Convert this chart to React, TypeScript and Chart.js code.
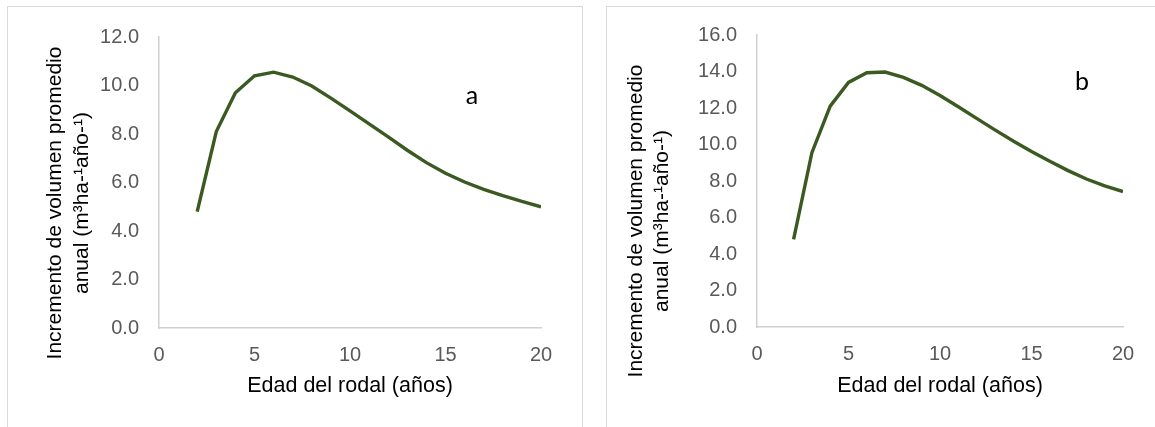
import React, { useEffect, useRef } from "react";
import { Chart, registerables } from "chart.js";

Chart.register(...registerables);

// ---------- data ----------
const AGES = [2, 3, 4, 5, 6, 7, 8, 9, 10, 11, 12, 13, 14, 15, 16, 17, 18, 19, 20];
const SERIES_A = [4.8, 8.1, 9.7, 10.4, 10.55, 10.35, 9.98, 9.48, 8.95, 8.42, 7.88, 7.33, 6.82, 6.38, 6.02, 5.72, 5.46, 5.22, 5.0];
const SERIES_B = [4.8, 9.55, 12.1, 13.4, 13.93, 13.97, 13.68, 13.24, 12.68, 12.07, 11.43, 10.8, 10.19, 9.62, 9.08, 8.57, 8.11, 7.73, 7.42];
const X_TICKS = [0, 5, 10, 15, 20];
const Y_TICKS_A = [0, 2, 4, 6, 8, 10, 12];
const Y_TICKS_B = [0, 2, 4, 6, 8, 10, 12, 14, 16];
const X_TITLE = "Edad del rodal (años)";
const Y_TITLE = ["Incremento de volumen promedio", "anual (m³ha-¹año-¹)"];
const PANEL_LABELS = ["a", "b"];

const FONT = "'Liberation Sans', Arial, sans-serif";
const LINE_COLOR = "#3a5a21";
const AXIS_COLOR = "#d0d0d0";
const TICK_COLOR = "#595959";

type Layout = {
  yAxisWidth: number;
  padTop: number;
  padRight: number;
  xAxisHeight: number;
  titleX: number;
  titleY: number;
  labelX: number;
  labelY: number;
};

function makeChart(
  canvas: HTMLCanvasElement,
  values: number[],
  yTicks: number[],
  label: string,
  L: Layout
) {
  const overlay = {
    id: "overlay",
    afterDraw(chart: any) {
      const ctx = chart.ctx as CanvasRenderingContext2D;
      ctx.save();
      ctx.fillStyle = "#000000";
      ctx.font = `21px ${FONT}`;
      ctx.textAlign = "center";
      ctx.textBaseline = "middle";
      Y_TITLE.forEach((line, i) => {
        ctx.save();
        ctx.translate(L.titleX + i * 26.5, L.titleY);
        ctx.rotate(-Math.PI / 2);
        ctx.fillText(line, 0, 0);
        ctx.restore();
      });
      ctx.font = `25px Lato, 'Open Sans', sans-serif`;
      ctx.fillText(label, L.labelX, L.labelY);
      ctx.restore();
    },
  };

  return new Chart(canvas, {
    type: "line",
    data: {
      datasets: [
        {
          data: AGES.map((x, i) => ({ x, y: values[i] })),
          borderColor: LINE_COLOR,
          backgroundColor: LINE_COLOR,
          borderWidth: 3.4,
          pointRadius: 0,
          tension: 0,
          fill: false,
        },
      ],
    },
    options: {
      animation: false,
      responsive: false,
      maintainAspectRatio: false,
      layout: { padding: { top: L.padTop, right: L.padRight, left: 0, bottom: 0 } },
      plugins: { legend: { display: false }, tooltip: { enabled: false } },
      scales: {
        x: {
          type: "linear",
          min: 0,
          max: 20,
          afterBuildTicks: (s: any) => {
            s.ticks = X_TICKS.map((v) => ({ value: v }));
          },
          afterFit: (s: any) => {
            s.height = L.xAxisHeight;
          },
          grid: { display: false },
          border: { display: true, color: AXIS_COLOR, width: 1.5 },
          ticks: {
            color: TICK_COLOR,
            font: { family: FONT, size: 20 },
            padding: 7,
            maxRotation: 0,
            callback: (v: any) => String(v),
          },
          title: {
            display: true,
            text: X_TITLE,
            color: "#000000",
            font: { family: FONT, size: 21.5 },
            padding: { top: 0, bottom: 27 },
          },
        },
        y: {
          type: "linear",
          min: yTicks[0],
          max: yTicks[yTicks.length - 1],
          afterBuildTicks: (s: any) => {
            s.ticks = yTicks.map((v) => ({ value: v }));
          },
          afterFit: (s: any) => {
            s.width = L.yAxisWidth;
          },
          grid: { display: false },
          border: { display: true, color: AXIS_COLOR, width: 1.5 },
          ticks: {
            color: TICK_COLOR,
            font: { family: FONT, size: 20 },
            padding: 12,
            callback: (v: any) => Number(v).toFixed(1),
          },
        },
      },
    },
    plugins: [overlay],
  } as any);
}

function Panel(props: {
  left: number;
  width: number;
  canvasW: number;
  values: number[];
  yTicks: number[];
  label: string;
  layout: Layout;
}) {
  const ref = useRef<HTMLCanvasElement | null>(null);
  useEffect(() => {
    if (!ref.current) return;
    const c = makeChart(ref.current, props.values, props.yTicks, props.label, props.layout);
    return () => c.destroy();
  }, []);
  return (
    <div
      style={{
        position: "absolute",
        left: props.left,
        top: 6,
        width: props.width,
        height: 440,
        border: "1px solid #d9d9d9",
        boxSizing: "border-box",
        background: "#fff",
      }}
    >
      <canvas
        ref={ref}
        width={props.canvasW}
        height={419}
        style={{ display: "block", width: props.canvasW, height: 419 }}
      />
    </div>
  );
}

export default function App() {
  return (
    <div
      style={{
        position: "fixed",
        left: 0,
        top: 0,
        width: 1155,
        height: 427,
        background: "#ffffff",
        overflow: "hidden",
      }}
    >
      <Panel
        left={7}
        width={576}
        canvasW={574}
        values={SERIES_A}
        yTicks={Y_TICKS_A}
        label={PANEL_LABELS[0]}
        layout={{
          yAxisWidth: 151,
          padTop: 30,
          padRight: 41,
          xAxisHeight: 98,
          titleX: 47.5,
          titleY: 196,
          labelX: 464,
          labelY: 89,
        }}
      />
      <Panel
        left={606}
        width={560}
        canvasW={558}
        values={SERIES_B}
        yTicks={Y_TICKS_B}
        label={PANEL_LABELS[1]}
        layout={{
          yAxisWidth: 150,
          padTop: 28,
          padRight: 42,
          xAxisHeight: 99,
          titleX: 29,
          titleY: 214,
          labelX: 475,
          labelY: 75,
        }}
      />
    </div>
  );
}
